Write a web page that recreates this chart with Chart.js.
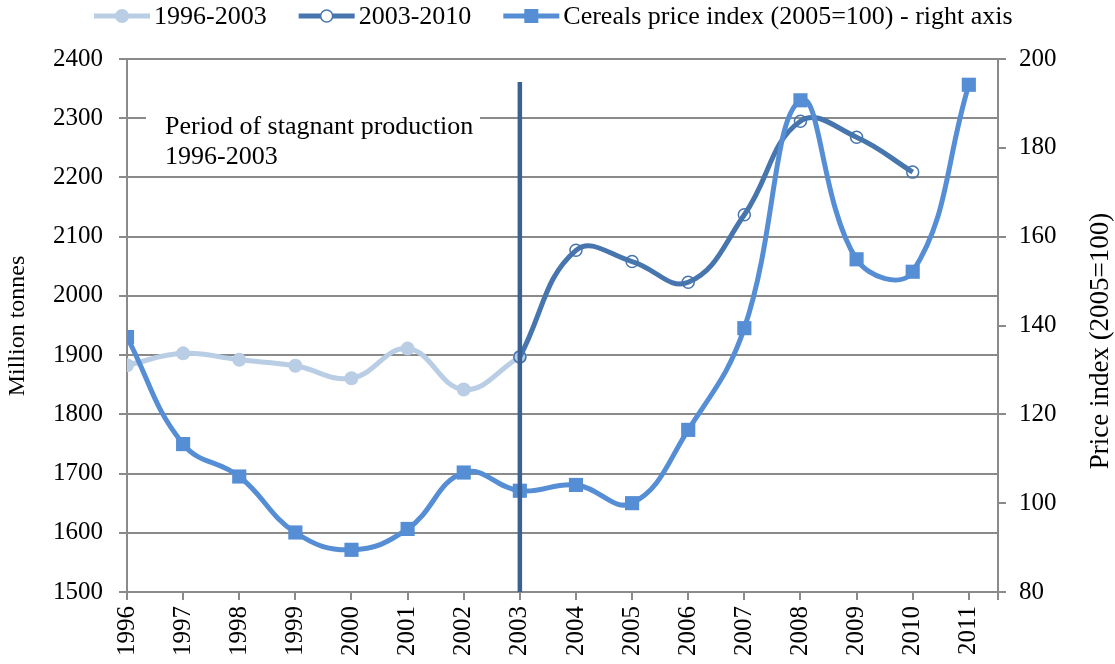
<!DOCTYPE html>
<html>
<head>
<meta charset="utf-8">
<script src="https://cdn.jsdelivr.net/npm/chart.js@4.4.0/dist/chart.umd.min.js"></script>
<style>
  body { margin: 0; background: #fff; }
  #wrap { width: 1115px; height: 664px; }
</style>
</head>
<body>
<div id="wrap"><canvas id="myChart" width="1115" height="664"></canvas></div>
<script>
// years on the x axis
const years = [1996, 1997, 1998, 1999, 2000, 2001, 2002, 2003, 2004, 2005, 2006, 2007, 2008, 2009, 2010, 2011];
// cereal production, million tonnes (left axis)
const prodEarly = [1883, 1903, 1892, 1882, 1861, 1911, 1842, 1897];           // 1996-2003
const prodLate = [1897, 2077, 2058, 2023, 2137, 2295, 2268, 2209];            // 2003-2010
// cereals price index 2005=100 (right axis)
const priceIndex = [137.4, 113.3, 106, 93.4, 89.5, 94.2, 106.9, 102.8, 104.1, 100, 116.5, 139.4, 190.7, 154.9, 152.1, 194.2];
// marker line at 2003 (year, low, high in million tonnes)
const splitYear = 2003;
const splitRange = [1500, 2361];

const legendLabels = ['1996-2003', '2003-2010', 'Cereals price index (2005=100) - right axis'];
const leftTicks = [1500, 2400, 100];
const rightTicks = [80, 200, 20];

const serif = "'Liberation Serif', 'Times New Roman', serif";
const grey = '#8a8a8a';
const cLight = '#B9CDE5';
const cDark = '#4775AD';
const cPrice = '#558ED5';
const cSplit = '#3A6192';

const toXY = (arr, startIdx) => arr.map((v, i) => ({ x: years[startIdx + i], y: v }));

const extras = {
  id: 'extras',
  afterDraw(chart) {
    const ctx = chart.ctx;
    const area = chart.chartArea;
    ctx.save();

    // annotation box
    ctx.fillStyle = '#fff';
    ctx.fillRect(area.left + 19, area.top + 44, 334, 70);
    ctx.fillStyle = '#000';
    ctx.font = '26px ' + serif;
    ctx.textBaseline = 'alphabetic';
    ctx.textAlign = 'left';
    ctx.fillText('Period of stagnant production', area.left + 38, area.top + 75);
    ctx.fillText('1996-2003', area.left + 38, area.top + 105);

    // axis titles
    ctx.textAlign = 'center';
    ctx.textBaseline = 'middle';
    ctx.save();
    ctx.font = '24px ' + serif;
    ctx.translate(18, 326);
    ctx.rotate(-Math.PI / 2);
    ctx.fillText('Million tonnes', 0, 0);
    ctx.restore();
    ctx.save();
    ctx.font = '27px ' + serif;
    ctx.translate(1101, 341);
    ctx.rotate(-Math.PI / 2);
    ctx.fillText('Price index (2005=100)', 0, 0);
    ctx.restore();

    // legend
    ctx.font = '26px ' + serif;
    const sampleW = 56, gapText = 4, gapItem = 32;
    let x = 94;
    const y = 16;
    const styles = [
      { color: cLight, type: 'dot' },
      { color: cDark, type: 'ring' },
      { color: cPrice, type: 'square' }
    ];
    legendLabels.forEach((t, i) => {
      const s = styles[i];
      ctx.strokeStyle = s.color;
      ctx.lineWidth = 5;
      ctx.beginPath();
      ctx.moveTo(x, y);
      ctx.lineTo(x + sampleW, y);
      ctx.stroke();
      const cx = x + sampleW / 2;
      if (s.type === 'dot') {
        ctx.fillStyle = s.color;
        ctx.beginPath(); ctx.arc(cx, y, 7, 0, Math.PI * 2); ctx.fill();
      } else if (s.type === 'ring') {
        ctx.fillStyle = '#fff';
        ctx.lineWidth = 1.5;
        ctx.beginPath(); ctx.arc(cx, y, 6, 0, Math.PI * 2); ctx.fill(); ctx.stroke();
      } else {
        ctx.fillStyle = s.color;
        ctx.fillRect(cx - 7, y - 7, 14, 14);
      }
      ctx.fillStyle = '#000';
      ctx.textAlign = 'left';
      ctx.textBaseline = 'middle';
      ctx.fillText(t, x + sampleW + gapText, y + 1);
      x += sampleW + gapText + ctx.measureText(t).width + gapItem;
    });
    ctx.restore();
  }
};

const ctx = document.getElementById('myChart');

new Chart(ctx, {
  type: 'line',
  data: {
    datasets: [
      {
        label: 'split',
        data: splitRange.map(v => ({ x: splitYear, y: v })),
        yAxisID: 'y',
        borderColor: cSplit,
        borderWidth: 4.5,
        pointRadius: 0,
        tension: 0
      },
      {
        label: legendLabels[2],
        data: toXY(priceIndex, 0),
        yAxisID: 'y2',
        borderColor: cPrice,
        backgroundColor: cPrice,
        borderWidth: 5,
        tension: 0.42,
        pointStyle: 'rect',
        pointRadius: 10,
        pointBorderWidth: 0
      },
      {
        label: legendLabels[1],
        data: toXY(prodLate, 7),
        yAxisID: 'y',
        borderColor: cDark,
        backgroundColor: 'rgba(255,255,255,0)',
        borderWidth: 5,
        tension: 0.42,
        pointRadius: 6,
        pointBorderWidth: 1.5,
        pointBorderColor: cDark,
        pointBackgroundColor: 'rgba(255,255,255,0)'
      },
      {
        label: legendLabels[0],
        data: toXY(prodEarly, 0),
        yAxisID: 'y',
        borderColor: cLight,
        backgroundColor: cLight,
        borderWidth: 5,
        tension: 0.42,
        pointRadius: 7,
        pointBorderWidth: 0
      }
    ]
  },
  options: {
    responsive: false,
    animation: false,
    layout: { padding: { top: 59, left: 0, right: 0, bottom: 0 } },
    plugins: {
      legend: { display: false },
      tooltip: { enabled: false }
    },
    scales: {
      x: {
        type: 'linear',
        min: 1996,
        max: 2011.52,
        afterFit: s => { s.height = 72; },
        border: { color: grey, width: 2 },
        grid: { drawOnChartArea: false, drawTicks: true, tickLength: 8, color: grey, lineWidth: 2 },
        ticks: {
          stepSize: 1,
          minRotation: 90,
          maxRotation: 90,
          autoSkip: false,
          padding: 6,
          color: '#000',
          font: { family: serif, size: 25 },
          callback: v => Number.isInteger(v) ? String(v) : ''
        }
      },
      y: {
        position: 'left',
        min: leftTicks[0],
        max: leftTicks[1],
        afterFit: s => { s.width = 127; },
        border: { color: grey, width: 2 },
        grid: { color: grey, lineWidth: 2, tickLength: 8 },
        ticks: {
          stepSize: leftTicks[2],
          padding: 16,
          color: '#000',
          font: { family: serif, size: 25 },
          callback: v => String(v)
        }
      },
      y2: {
        position: 'right',
        min: rightTicks[0],
        max: rightTicks[1],
        afterFit: s => { s.width = 117; },
        border: { color: grey, width: 2 },
        grid: { drawOnChartArea: false, color: grey, lineWidth: 2, tickLength: 8 },
        ticks: {
          stepSize: rightTicks[2],
          padding: 13,
          color: '#000',
          font: { family: serif, size: 25 },
          callback: v => String(v)
        }
      }
    }
  },
  plugins: [extras]
});
</script>
</body>
</html>
